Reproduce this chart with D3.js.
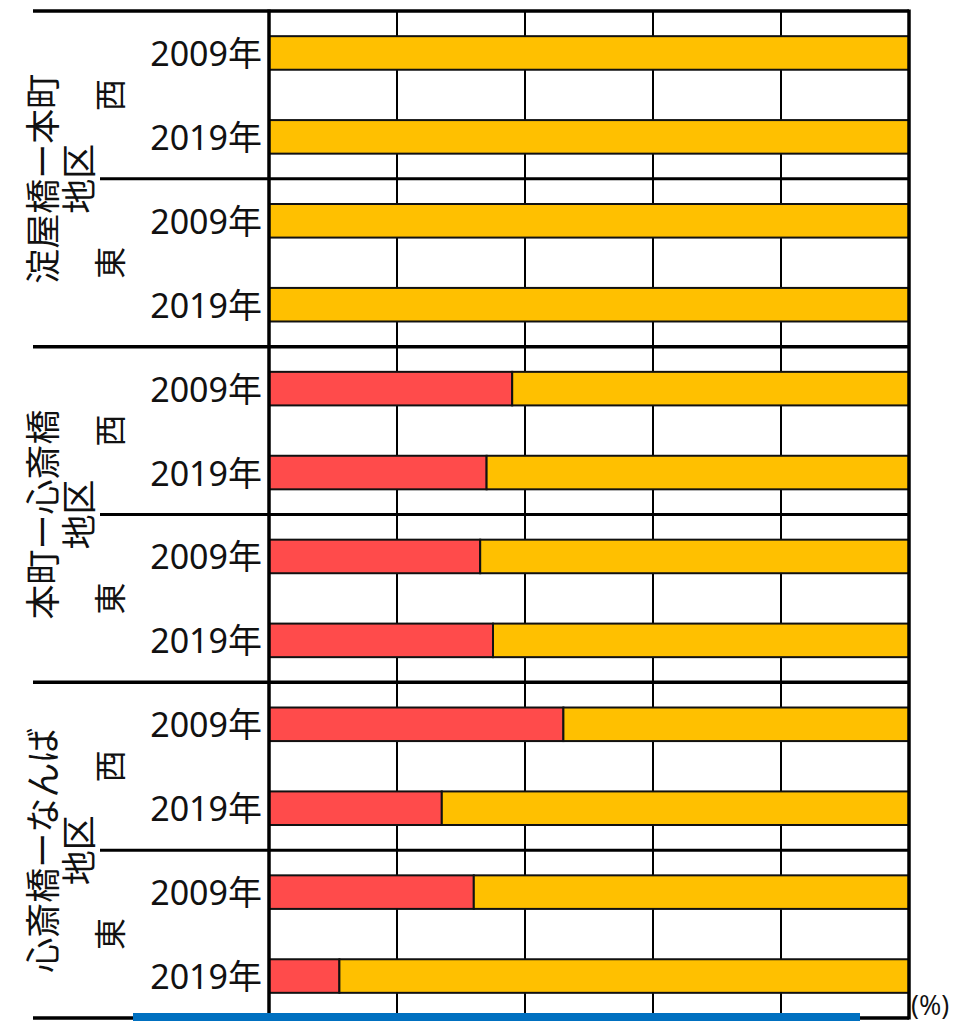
<!DOCTYPE html>
<html>
<head>
<meta charset="utf-8">
<script src="https://cdn.jsdelivr.net/npm/d3@7"></script>
<style>
  body { margin: 0; background: #fff; }
  svg { display: block; font-family: "Noto Sans CJK JP", "Noto Sans", sans-serif; }
</style>
</head>
<body>
<svg id="chart"></svg>
<script>
// district groups (two-line rotated labels), sides and years
const groupLines = [["淀屋橋ー本町", "地区"], ["本町ー心斎橋", "地区"], ["心斎橋ーなんば", "地区"]];
const sides = ["西", "東"];
const years = ["2009年", "2019年"];

// share (%) per row, in order group > side > year
const redShare    = [0, 0, 0, 0, 38, 34, 33, 35, 46, 27, 32, 11];
const yellowShare = [100, 100, 100, 100, 62, 66, 67, 65, 54, 73, 68, 89];
const xTicks = [0, 20, 40, 60, 80, 100];
const unitLabel = "(%)";

const W = 953, H = 1021;
const plot = { left: 269, right: 909, top: 11, bottom: 1018 };

const svg = d3.select("#chart").attr("width", W).attr("height", H);

// build rows
const rows = [];
groupLines.forEach((g, gi) => {
  sides.forEach((s, si) => {
    years.forEach((yr, yi) => {
      const i = rows.length;
      rows.push({ key: `${gi}-${si}-${yi}`, gi, si, year: yr, red: redShare[i], yellow: yellowShare[i] });
    });
  });
});

const x = d3.scaleLinear().domain([0, 100]).range([plot.left, plot.right]);
const y = d3.scaleBand()
  .domain(rows.map(d => d.key))
  .range([plot.top, plot.bottom])
  .paddingInner(0.6)
  .paddingOuter(0.3);
const step = y.step();

// vertical gridlines
svg.append("g").selectAll("line")
  .data(xTicks.slice(1, -1))
  .join("line")
  .attr("x1", d => x(d)).attr("x2", d => x(d))
  .attr("y1", plot.top).attr("y2", plot.bottom)
  .attr("stroke", "#000").attr("stroke-width", 2);

// stacked bars
const stack = d3.stack().keys(["red", "yellow"]);
const colors = { red: "#ff4b4b", yellow: "#ffc000" };
const layers = stack(rows);

svg.append("g").selectAll("g")
  .data(layers)
  .join("g")
  .attr("fill", d => colors[d.key])
  .selectAll("rect")
  .data(d => d.filter(v => v[1] - v[0] > 0))
  .join("rect")
  .attr("x", d => x(d[0]))
  .attr("width", d => x(d[1]) - x(d[0]))
  .attr("y", d => y(d.data.key))
  .attr("height", y.bandwidth())
  .attr("stroke", "#111")
  .attr("stroke-width", 2);

// horizontal separators between sides / groups
const seps = d3.range(0, rows.length + 1, 2).map(k => ({
  y: plot.top + k * step,
  major: k % 4 === 0
}));
svg.append("g").selectAll("line")
  .data(seps)
  .join("line")
  .attr("x1", d => d.major ? 33 : 100)
  .attr("x2", plot.right)
  .attr("y1", d => d.y).attr("y2", d => d.y)
  .attr("stroke", "#000")
  .attr("stroke-width", d => d.major ? 3.5 : 3);

// plot left / right borders
svg.append("g").selectAll("line")
  .data([0, 100])
  .join("line")
  .attr("x1", d => x(d)).attr("x2", d => x(d))
  .attr("y1", plot.top - 1.5).attr("y2", plot.bottom + 1.5)
  .attr("stroke", "#000").attr("stroke-width", 3.5);

// year labels
svg.append("g").selectAll("text")
  .data(rows)
  .join("text")
  .attr("x", plot.left - 7)
  .attr("y", d => y(d.key) + y.bandwidth() / 2)
  .attr("text-anchor", "end")
  .attr("dominant-baseline", "central")
  .attr("font-family", "'Noto Sans', 'Noto Sans CJK JP', sans-serif")
  .attr("font-size", 34)
  .attr("fill", "#111")
  .text(d => d.year);

// side labels (rotated)
const sideRows = rows.filter((d, i) => i % 2 === 0);
svg.append("g").selectAll("text")
  .data(sideRows)
  .join("text")
  .attr("transform", d => `translate(108,${plot.top + (d.gi * 4 + d.si * 2 + 1) * step}) rotate(-90)`)
  .attr("text-anchor", "middle")
  .attr("dominant-baseline", "central")
  .attr("font-size", 32)
  .attr("fill", "#111")
  .text(d => sides[d.si]);

// group labels (rotated, two lines)
groupLines.forEach((lines, gi) => {
  const cy = plot.top + (gi * 4 + 2) * step;
  lines.forEach((t, li) => {
    svg.append("text")
      .attr("transform", `translate(${40 + li * 36},${cy}) rotate(-90)`)
      .attr("text-anchor", "middle")
      .attr("dominant-baseline", "central")
      .attr("font-size", 35)
      .attr("fill", "#111")
      .text(t);
  });
});

// unit label
svg.append("text")
  .attr("x", 911).attr("y", 1004)
  .attr("dominant-baseline", "central")
  .attr("font-family", "'Open Sans', 'Noto Sans', sans-serif")
  .attr("font-size", 27)
  .attr("fill", "#111")
  .text(unitLabel);

// blue strip at the bottom edge
svg.append("rect")
  .attr("x", 133).attr("y", 1013)
  .attr("width", 727).attr("height", 8)
  .attr("fill", "#0070c0");
</script>
</body>
</html>
